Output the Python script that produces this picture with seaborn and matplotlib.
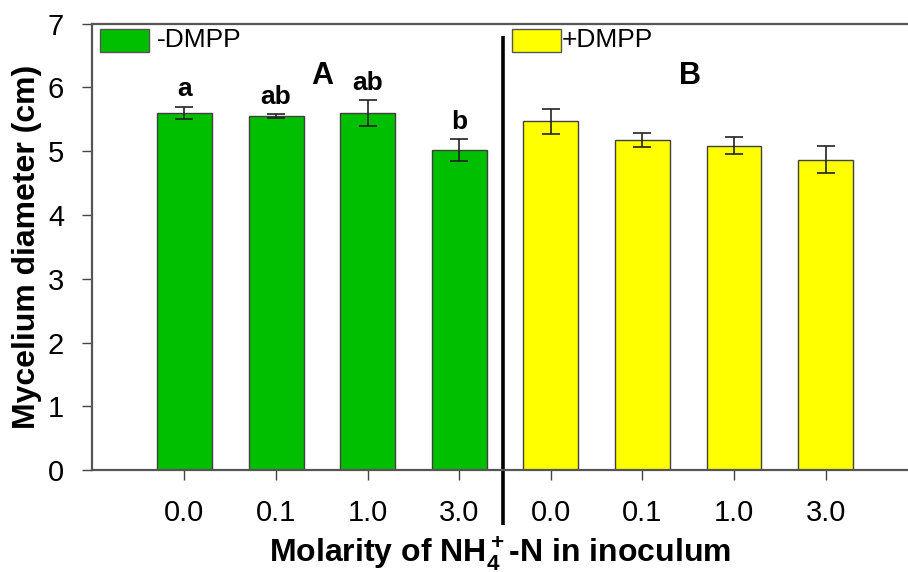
import matplotlib
matplotlib.use("Agg")
import matplotlib.pyplot as plt
import seaborn as sns
import pandas as pd
from matplotlib.patches import Rectangle

# Mycelium diameter (cm) by NH4+-N molarity, without and with DMPP
molarity = ["0.0", "0.1", "1.0", "3.0"]
minus_dmpp = [5.60, 5.55, 5.60, 5.02]
minus_dmpp_se = [0.10, 0.03, 0.20, 0.17]
plus_dmpp = [5.47, 5.17, 5.09, 4.87]
plus_dmpp_se = [0.20, 0.11, 0.13, 0.21]
letters = ["a", "ab", "ab", "b"]
groups = ["-DMPP", "+DMPP"]
panel_tags = ["A", "B"]
colors = {"-DMPP": "#00BE00", "+DMPP": "#FFFF00"}

sns.set_style("white")
plt.rcParams.update({
    "mathtext.default": "regular",
    "text.color": "black",
    "axes.labelcolor": "black",
    "xtick.labelcolor": "black",
    "ytick.labelcolor": "black",
})
sans = ["Liberation Sans", "DejaVu Sans"]

slots = [f"{g} {m}" for g in groups for m in molarity]
df = pd.DataFrame({
    "slot": slots,
    "diameter": minus_dmpp + plus_dmpp,
    "se": minus_dmpp_se + plus_dmpp_se,
    "group": [groups[0]] * 4 + [groups[1]] * 4,
})

fig = plt.figure(figsize=(9.08, 5.72), dpi=100)
ax = fig.add_axes([0.1013, 0.178, 0.8987, 0.7806])

sns.barplot(data=df, x="slot", y="diameter", hue="group", order=slots,
            palette=colors, saturation=1, dodge=False, width=0.6, errorbar=None,
            edgecolor="#404040", linewidth=1.0, legend=False, ax=ax)

ax.errorbar(range(len(slots)), df["diameter"], yerr=df["se"], fmt="none",
            ecolor="#222222", elinewidth=1.2, capsize=6.5, capthick=1.2)

ax.set_xlim(-1.01, 7.9)
ax.set_ylim(0, 7)
ax.set_yticks(range(0, 8))

ax.set_xticks(range(len(slots)))
ax.set_xticklabels(molarity + molarity, family=sans, fontsize=21, color="black")
ax.set_yticklabels([str(v) for v in range(0, 8)], family=sans, fontsize=21, color="black")
ax.tick_params(axis="x", direction="out", length=7, width=1.0, color="#444444",
               pad=14, bottom=True)
ax.tick_params(axis="y", direction="out", length=7, width=1.0, color="#444444",
               pad=13, left=True)

for side in ["left", "top", "bottom"]:
    ax.spines[side].set_color("#555555")
    ax.spines[side].set_linewidth(1.6)
ax.spines["right"].set_visible(False)

ax.set_xlabel("Molarity of NH$_4^+$-N in inoculum", family=sans,
              fontsize=23, fontweight="bold", labelpad=6, color="black")
ax.set_ylabel("Mycelium diameter (cm)", family=sans,
              fontsize=23, fontweight="bold", labelpad=4, color="black")

# significance letters over the -DMPP bars
for i, (lab, v, e) in enumerate(zip(letters, minus_dmpp, minus_dmpp_se)):
    ax.text(i, v + e + 0.08, lab, ha="center", va="bottom",
            family=sans, fontsize=19, fontweight="bold", color="black")

# panel tags
ax.text(1.5, 6.18, panel_tags[0], ha="center", va="center",
        family=sans, fontsize=22, fontweight="bold", color="black")
ax.text(5.52, 6.18, panel_tags[1], ha="center", va="center",
        family=sans, fontsize=22, fontweight="bold", color="black")

# divider between the two treatments
ax.plot([3.48, 3.48], [-0.86, 6.8], color="black", linewidth=2.6,
        clip_on=False, solid_capstyle="butt")

# legend swatches drawn inside the axes
for x0, g in [(-0.92, groups[0]), (3.58, groups[1])]:
    ax.add_patch(Rectangle((x0, 6.56), 0.53, 0.36, facecolor=colors[g],
                           edgecolor="#555555", linewidth=1.0, clip_on=False))
ax.text(-0.30, 6.75, groups[0], ha="left", va="center", family=sans,
        fontsize=19, color="black")
ax.text(4.12, 6.75, groups[1], ha="left", va="center", family=sans,
        fontsize=19, color="black")

fig.savefig("out.png", dpi=100)
